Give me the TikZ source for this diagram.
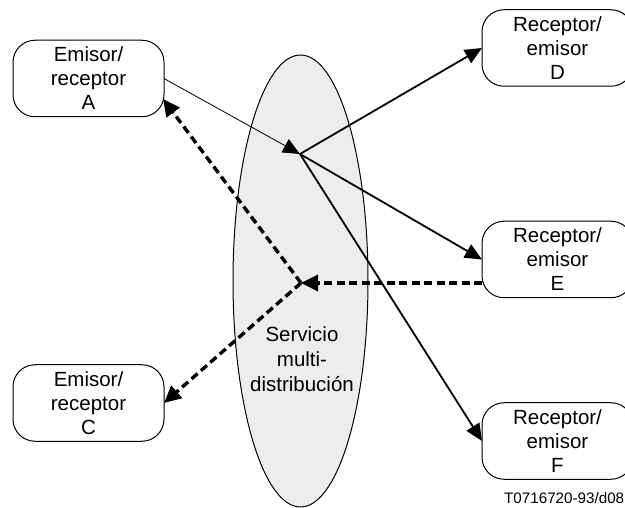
\documentclass[tikz,border=0pt]{standalone}
\usepackage{fontspec}
\setmainfont{Liberation Sans}
\usetikzlibrary{arrows.meta,shapes.geometric}
\tikzset{
  x=1pt,y=-1pt,
  boxnode/.style={draw=black,line width=1pt,rounded corners=22pt,fill=white,minimum width=151pt,minimum height=76.5pt,inner sep=0pt,outer sep=0pt,align=center,font=\fontsize{20.5}{24}\selectfont},
  cloudnode/.style={ellipse,draw=black,line width=1pt,fill=black!7,minimum width=135pt,minimum height=452pt,inner sep=0pt,outer sep=0pt},
  labelnode/.style={align=center,inner sep=0pt,font=\fontsize{20.5}{25}\selectfont},
  solidarrow/.style={draw=black,line width=1.8pt,-{Triangle[length=17pt,width=15pt]}},
  thinarrow/.style={draw=black,line width=0.8pt,-{Triangle[length=17pt,width=15pt]}},
  dasharrow/.style={draw=black,line width=3.4pt,dash pattern=on 8pt off 4.5pt,-{Triangle[length=17pt,width=16pt]}},
}
\begin{document}
\begin{tikzpicture}
\useasboundingbox (0,0) rectangle (625,508);
\clip (0,0) rectangle (625,508);
\node[cloudnode] (cloud) at (300.5,281) {};
\node[labelnode] (svc) at (302,359) {Servicio\\multi-\\distribución};
\node[boxnode] (A) at (88.5,78.5) {Emisor/\\receptor\\A};
\node[boxnode] (C) at (88.5,403) {Emisor/\\receptor\\C};
\node[boxnode] (D) at (557.5,48) {Receptor/\\emisor\\D};
\node[boxnode] (E) at (557.5,259.5) {Receptor/\\emisor\\E};
\node[boxnode] (F) at (557.5,441) {Receptor/\\emisor\\F};
\coordinate (hubup) at (300,154);
\coordinate (hubdown) at (301,283);
\coordinate (Aport) at (163,99);
\coordinate (Cport) at (164,403);
\coordinate (Eport) at (482,283);
\draw[thinarrow] (A.east) -- (hubup);
\draw[solidarrow] (hubup) -- (D.west);
\draw[solidarrow] (hubup) -- (E.west);
\draw[solidarrow] (hubup) -- (F.west);
\draw[dasharrow] (Eport) -- (hubdown);
\draw[dasharrow] (hubdown) -- (Aport);
\draw[dasharrow] (hubdown) -- (Cport);
\node[anchor=base west,inner sep=0pt,font=\fontsize{15.2}{18}\selectfont] (code) at (504,503) {T0716720-93/d08};
\end{tikzpicture}
\end{document}
